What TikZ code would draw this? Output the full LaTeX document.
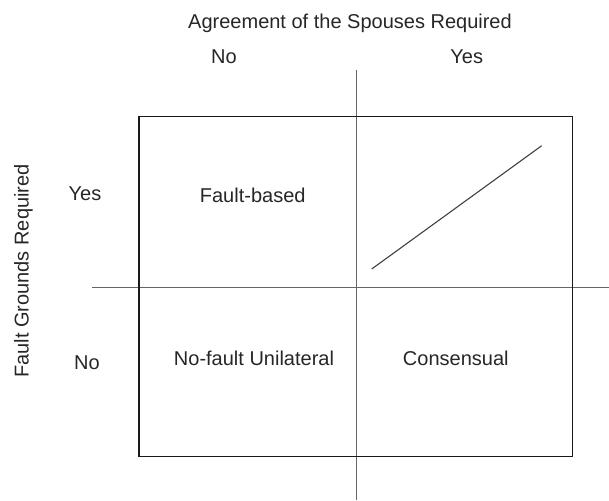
\documentclass[tikz,border=0pt]{standalone}
\usepackage{fontspec}
\setmainfont{Liberation Sans}
\begin{document}
\begin{tikzpicture}[x=1pt,y=-1pt,
  lbl/.style={font=\fontsize{20}{24}\selectfont, anchor=base, inner sep=0pt, text=black!85},
  axis/.style={draw=black!60, line width=1pt},
  box/.style={draw=black!90, line width=1.3pt},
  diag/.style={draw=black!75, line width=1.1pt}]
\useasboundingbox (0,0) rectangle (609,500);
% coordinates
\coordinate (tl) at (139,116.7);
\coordinate (br) at (572.7,456.7);
\coordinate (vtop) at (356.7,70);
\coordinate (vbot) at (356.7,500);
\coordinate (hl) at (92,287.3);
\coordinate (hr) at (609,287.3);
\coordinate (d1) at (371.7,269);
\coordinate (d2) at (541.7,145.7);
% lines
\draw[axis] (vtop) -- (vbot);
\draw[axis] (hl) -- (hr);
\draw[box] (tl) rectangle (br);
\draw[diag] (d1) -- (d2);
% labels
\node[lbl] (title) at (350,28.3) {Agreement of the Spouses Required};
\node[lbl] (colno) at (224,63.3) {No};
\node[lbl] (colyes) at (466.7,63.3) {Yes};
\node[lbl, rotate=90] (rowtitle) at (28.5,271) {Fault Grounds Required};
\node[lbl] (rowyes) at (85,200) {Yes};
\node[lbl] (rowno) at (87,369.5) {No};
\node[lbl] (fault) at (252.7,202.3) {Fault-based};
\node[lbl] (nofault) at (254,365) {No-fault Unilateral};
\node[lbl] (cons) at (455.8,365) {Consensual};
\end{tikzpicture}
\end{document}
